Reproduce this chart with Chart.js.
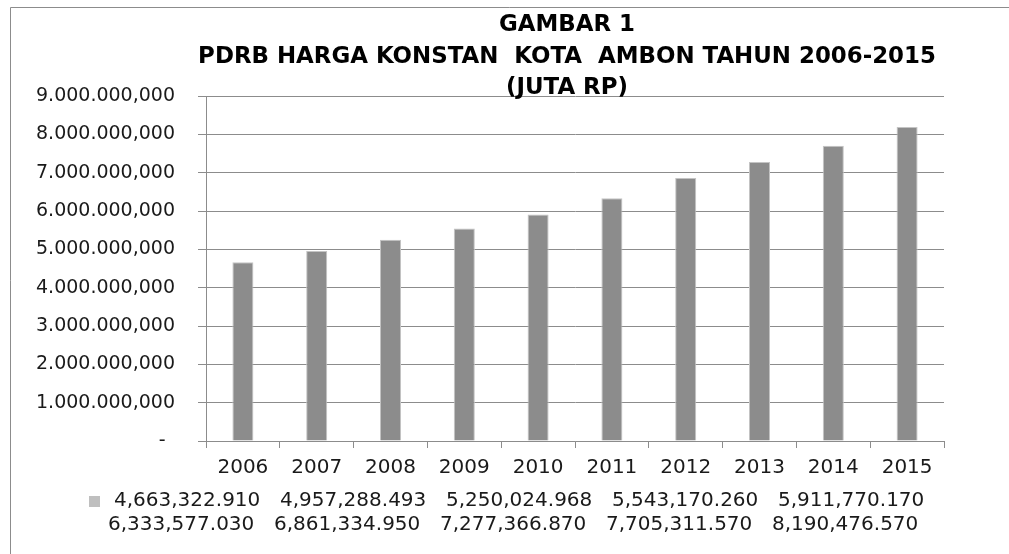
<!DOCTYPE html>
<html>
<head>
<meta charset="utf-8">
<script src="https://cdn.jsdelivr.net/npm/chart.js@4.4.1/dist/chart.umd.min.js"></script>
<style>
    html, body { margin: 0; padding: 0; background: #fff; }
    #pdrbChart { display: block; }
</style>
</head>
<body>
<canvas id="pdrbChart" width="1009" height="554"></canvas>
<script>
// data PDRB harga konstan Kota Ambon (juta Rp)
const years = ['2006', '2007', '2008', '2009', '2010', '2011', '2012', '2013', '2014', '2015'];
const pdrbValues = [4663322.910, 4957288.493, 5250024.968, 5543170.260, 5911770.170,
    6333577.030, 6861334.950, 7277366.870, 7705311.570, 8190476.570];
const titleLines = ['GAMBAR 1', 'PDRB HARGA KONSTAN  KOTA  AMBON TAHUN 2006-2015', '(JUTA RP)'];
const yMax = 9000000;
const yStep = 1000000;

const fontName = '"DejaVu Sans", Verdana, sans-serif';

function formatAxis(v) {
    if (v === 0) return '-\u2002';
    return Math.round(v).toString().replace(/\B(?=(\d{3})+(?!\d))/g, '.') + ',000';
}

function formatLegend(v) {
    let parts = v.toFixed(3).split('.');
    return parts[0].replace(/\B(?=(\d{3})+(?!\d))/g, ',') + '.' + parts[1];
}

// frame, title and the odd one-item legend of the original
const decorPlugin = {
    id: 'decor',
    beforeDraw(chart) {
        let ctx = chart.ctx;
        ctx.save();
        ctx.fillStyle = '#ffffff';
        ctx.fillRect(0, 0, chart.width, chart.height);
        ctx.strokeStyle = '#8c8c8c';
        ctx.lineWidth = 1;
        ctx.beginPath();
        ctx.moveTo(10.5, chart.height);
        ctx.lineTo(10.5, 7.5);
        ctx.lineTo(chart.width, 7.5);
        ctx.stroke();
        ctx.restore();
    },
    afterDraw(chart) {
        let ctx = chart.ctx;
        ctx.save();
        // title
        ctx.fillStyle = '#000000';
        ctx.textAlign = 'center';
        ctx.textBaseline = 'middle';
        ctx.font = 'bold 22px ' + fontName;
        let w = ctx.measureText(titleLines[1]).width;
        let size = Math.max(16, Math.min(26, 22 * 739 / w));
        ctx.font = 'bold ' + size.toFixed(1) + 'px ' + fontName;
        let titleY = [25, 57, 88];
        titleLines.forEach(function(line, i) {
            ctx.fillText(line, 567, titleY[i]);
        });
        // legend
        ctx.fillStyle = '#bfbfbf';
        ctx.fillRect(89, 496, 11, 11);
        ctx.fillStyle = '#1a1a1a';
        ctx.textAlign = 'left';
        ctx.font = '20px ' + fontName;
        pdrbValues.forEach(function(v, i) {
            let row = Math.floor(i / 5);
            let col = i % 5;
            let x = (row === 0 ? 114 : 108) + col * 166;
            ctx.fillText(formatLegend(v), x, row === 0 ? 501 : 525);
        });
        ctx.restore();
    }
};

function managePdrbChart() {
    let ctx = document.getElementById('pdrbChart').getContext('2d');
    new Chart(ctx, {
        type: 'bar',
        data: {
            labels: years,
            datasets: [{
                label: pdrbValues.map(formatLegend).join('  '),
                data: pdrbValues,
                backgroundColor: '#8c8c8c',
                borderColor: '#c4c4c4',
                borderWidth: 1,
                barPercentage: 0.285,
                categoryPercentage: 1
            }]
        },
        options: {
            responsive: false,
            animation: false,
            devicePixelRatio: 1,
            layout: {
                padding: { top: 96, right: 65, bottom: 0, left: 0 }
            },
            plugins: {
                legend: { display: false },
                title: { display: false },
                tooltip: { enabled: false }
            },
            scales: {
                x: {
                    offset: true,
                    grid: {
                        display: true,
                        drawOnChartArea: false,
                        drawTicks: true,
                        tickLength: 7,
                        color: '#8c8c8c'
                    },
                    border: { color: '#8c8c8c' },
                    ticks: {
                        color: '#1a1a1a',
                        padding: 8,
                        maxRotation: 0,
                        font: { family: fontName, size: 20 }
                    },
                    afterFit: function(scale) { scale.height = 113; }
                },
                y: {
                    min: 0,
                    max: yMax,
                    grid: {
                        color: '#8c8c8c',
                        drawTicks: true,
                        tickLength: 8
                    },
                    border: { color: '#8c8c8c' },
                    ticks: {
                        stepSize: yStep,
                        color: '#1a1a1a',
                        padding: 23,
                        font: { family: fontName, size: 19 },
                        callback: function(v) { return formatAxis(v); }
                    },
                    afterFit: function(scale) { scale.width = 206; }
                }
            }
        },
        plugins: [decorPlugin]
    });
}

managePdrbChart();
</script>
</body>
</html>
